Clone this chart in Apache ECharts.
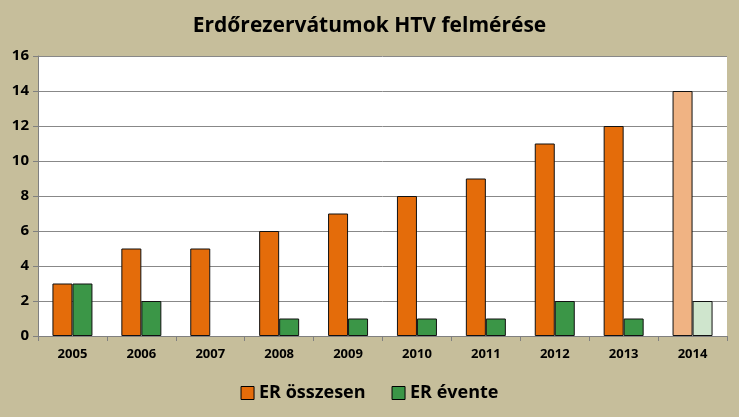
<!DOCTYPE html>
<html><head><meta charset="utf-8">
<script src="https://cdn.jsdelivr.net/npm/echarts@6/dist/echarts.min.js"></script>
<style>html,body{margin:0;padding:0;background:#C6BE9B;}#c{width:739px;height:417px;}</style>
</head><body><div id="c"></div>
<script>
var categories = ['2005','2006','2007','2008','2009','2010','2011','2012','2013','2014'];
var erOsszesen = [3,5,5,6,7,8,9,11,12,14];
var erEvente = [3,2,null,1,1,1,1,2,1,2];
var yTicks = [0,2,4,6,8,10,12,14,16];

var orange = '#E46C0A', orangeLight = '#F0B383';
var green = '#3B9647', greenLight = '#CFE5CD';
var font = "'Open Sans', 'DejaVu Sans', sans-serif";

function mk(vals, c, cLast) {
  return vals.map(function (v, i) {
    if (v === null) return '-';
    return { value: v, itemStyle: { color: i === vals.length - 1 ? cLast : c } };
  });
}

var chart = echarts.init(document.getElementById('c'));
chart.setOption({
  backgroundColor: '#C6BE9B',
  animation: false,
  title: {
    text: 'Erdőrezervátumok HTV felmérése',
    left: 'center', top: 11,
    textStyle: { fontFamily: font, fontWeight: 'bold', fontSize: 21, color: '#000' }
  },
  legend: {
    bottom: 10, left: 'center', itemWidth: 13, itemHeight: 13, itemGap: 26,
    textStyle: { fontFamily: font, fontWeight: 'bold', fontSize: 18, color: '#000' },
    data: [
      { name: 'ER összesen', icon: 'rect', itemStyle: { color: orange, borderColor: '#000', borderWidth: 1 } },
      { name: 'ER évente', icon: 'rect', itemStyle: { color: green, borderColor: '#000', borderWidth: 1 } }
    ]
  },
  grid: { left: 38, right: 12, top: 56, bottom: 81, backgroundColor: '#fff', show: true, borderWidth: 0 },
  xAxis: {
    type: 'category', data: categories,
    axisLine: { lineStyle: { color: '#808080', width: 1 } },
    axisTick: { show: true, length: 5, lineStyle: { color: '#808080' } },
    axisLabel: { fontFamily: font, fontWeight: 'bold', fontSize: 13, color: '#000', margin: 12 }
  },
  yAxis: {
    type: 'value', min: yTicks[0], max: yTicks[yTicks.length - 1], interval: 2,
    axisLine: { show: true, lineStyle: { color: '#808080' } },
    axisTick: { show: true, length: 5, lineStyle: { color: '#808080' } },
    splitLine: { lineStyle: { color: '#888', width: 1 } },
    axisLabel: { fontFamily: font, fontWeight: 'bold', fontSize: 15, color: '#000', margin: 9 }
  },
  series: [
    { name: 'ER összesen', type: 'bar', data: mk(erOsszesen, orange, orangeLight),
      barWidth: 20, barGap: '0%',
      itemStyle: { color: orange, borderColor: '#111', borderWidth: 1 } },
    { name: 'ER évente', type: 'bar', data: mk(erEvente, green, greenLight),
      barWidth: 20, barGap: '0%',
      itemStyle: { color: green, borderColor: '#111', borderWidth: 1 } }
  ]
});
</script></body></html>
